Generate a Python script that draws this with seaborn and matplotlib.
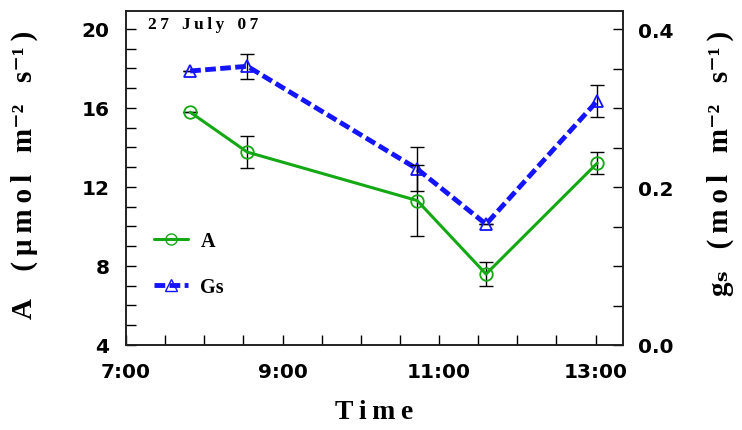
import numpy as np
import pandas as pd
import matplotlib
matplotlib.use("Agg")
import matplotlib.pyplot as plt
import seaborn as sns
from matplotlib.ticker import MultipleLocator, FuncFormatter
from matplotlib.lines import Line2D

# ---- data (time in hours) ----
time_h = [7.82, 8.55, 10.72, 11.60, 13.02]
A_vals = [15.78, 13.76, 11.31, 7.59, 13.20]
A_err = [0.0, 0.80, 1.78, 0.59, 0.56]
Gs_vals = [0.347, 0.353, 0.223, 0.153, 0.309]
Gs_err = [0.0, 0.016, 0.0275, 0.0, 0.020]
xtick_vals = [7, 9, 11, 13]
xtick_labels = ["7:00", "9:00", "11:00", "13:00"]

df = pd.DataFrame({"time": time_h, "A": A_vals, "Gs": Gs_vals})

sns.set_style("ticks")
plt.rcParams['font.family'] = ['DejaVu Sans']
plt.rcParams['text.color'] = 'black'
plt.rcParams['xtick.color'] = 'black'
plt.rcParams['ytick.color'] = 'black'
plt.rcParams['axes.labelcolor'] = 'black'

T = "\u2009"  # thin space used as letter spacing

fig = plt.figure(figsize=(7.42, 4.31), dpi=100)
ax = fig.add_axes([126/742, 1-346/431, (623-126)/742, (346-12)/431])
ax2 = ax.twinx()

green = "#14a814"
blue = "#1414ff"

# error bars
ax.errorbar(time_h, A_vals, yerr=A_err, fmt='none', ecolor='black',
            elinewidth=1.0, capsize=5, capthick=1.0, zorder=2)
ax2.errorbar(time_h, Gs_vals, yerr=Gs_err, fmt='none', ecolor='black',
             elinewidth=1.0, capsize=5, capthick=1.0, zorder=2)

sns.lineplot(data=df, x="time", y="A", ax=ax, color=green, lw=2.2,
             marker='o', markersize=9, markerfacecolor='none',
             markeredgecolor=green, markeredgewidth=1.3, zorder=3)
sns.lineplot(data=df, x="time", y="Gs", ax=ax2, color=blue, lw=3.5,
             linestyle=(0, (2.2, 0.9)), marker='^', markersize=9,
             markerfacecolor='none', markeredgecolor=blue,
             markeredgewidth=1.3, zorder=3)

ax.set_xlim(7, 13.35)
ax.set_ylim(4, 20.9)
ax2.set_ylim(0, 0.423)

ax.set_xticks(xtick_vals)
ax.set_xticklabels(xtick_labels)
ax.xaxis.set_minor_locator(MultipleLocator(0.5))
ax.yaxis.set_major_locator(MultipleLocator(4))
ax.yaxis.set_minor_locator(MultipleLocator(1))
ax2.yaxis.set_major_locator(MultipleLocator(0.2))
ax2.yaxis.set_minor_locator(MultipleLocator(0.05))
ax2.yaxis.set_major_formatter(FuncFormatter(lambda v, p: f"{v:.1f}"))

for a in (ax, ax2):
    a.tick_params(which='both', direction='in', length=7, width=1.0,
                  labelsize=14.5, colors='black')
    for s in a.spines.values():
        s.set_linewidth(1.2)
        s.set_color('#222222')
ax.tick_params(axis='y', which='both', right=False, pad=12)
ax2.tick_params(axis='y', which='both', left=False, pad=11)
ax.tick_params(axis='x', which='both', top=False, pad=12)
for lab in ax.get_xticklabels() + ax.get_yticklabels() + ax2.get_yticklabels():
    lab.set_fontweight('bold')

serif = ['Liberation Serif', 'DejaVu Serif']
ax.set_xlabel(T.join("Time"), fontsize=20, fontweight='bold', family=serif)
ax.xaxis.set_label_coords(0.5, (346 - 425) / 334)
ax.xaxis.label.set_va('bottom')

left_label = f"A    ({T}\u03bc{T}m{T}o{T}l   m\u207b\u00b2   s\u207b\u00b9{T})"
right_label = f"g\u209b   ({T}m{T}o{T}l   m\u207b\u00b2   s\u207b\u00b9{T})"
ax.set_ylabel(left_label, fontsize=21, fontweight='bold', family=serif)
ax.yaxis.set_label_coords((38 - 126) / 497, (346 - 175) / 334)
ax2.set_ylabel(right_label, fontsize=21, fontweight='bold', family=serif,
               rotation=90)
ax2.yaxis.set_label_coords((707 - 126) / 497, (346 - 163) / 334)

ax.text(0.044, 0.985, f"2{T}7   J{T}u{T}l{T}y   0{T}7",
        transform=ax.transAxes, ha='left', va='top', fontsize=12.5,
        fontweight='bold', family=serif)

handles = [
    Line2D([], [], color=green, lw=2.2, marker='o', markersize=8,
           markerfacecolor='none', markeredgecolor=green),
    Line2D([], [], color=blue, lw=3.5, linestyle=(0, (2.2, 0.9)), marker='^',
           markersize=8, markerfacecolor='none', markeredgecolor=blue),
]
leg = ax.legend(handles, ["A", "Gs"], loc='upper left',
                bbox_to_anchor=(0.02, 0.395), frameon=False,
                handlelength=1.7, labelspacing=1.3, handletextpad=0.6,
                prop={'family': serif, 'weight': 'bold', 'size': 14.5})
ax.set_zorder(ax2.get_zorder() + 1)
ax.patch.set_visible(False)

fig.savefig("out.png", dpi=100)
